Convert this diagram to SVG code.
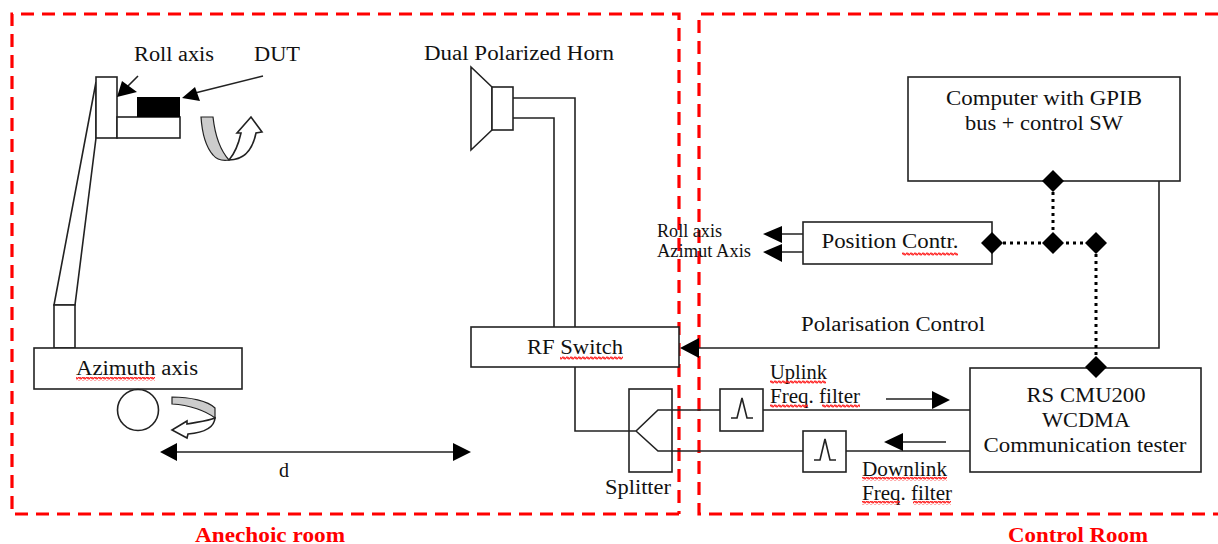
<svg xmlns="http://www.w3.org/2000/svg" width="1218" height="544" viewBox="0 0 1218 544">
<style>
text{font-family:"Liberation Serif","Times New Roman",serif;font-size:20px;fill:#111;text-anchor:middle}
.st{text-anchor:start}
.sm{font-size:18px}
.s{fill:none;stroke:#222;stroke-width:1.6}
.b{fill:#fff;stroke:#222;stroke-width:1.6}
.k{fill:#000;stroke:none}
.room{fill:none;stroke:#f00;stroke-width:3.2;stroke-dasharray:13 8}
.lbl{fill:#f00;font-weight:bold}
.dot{fill:none;stroke:#000;stroke-width:3;stroke-dasharray:3 4}
.sq{fill:none;stroke:#f22;stroke-width:1.1}
</style>
<defs>
<pattern id="squig" width="4" height="4" patternUnits="userSpaceOnUse"><path d="M0 1L1 3L3 1L4 3" class="sq"/></pattern>
<path id="dia" d="M0-11L11 0L0 11L-11 0Z" class="k"/>
</defs>
<rect width="1218" height="544" fill="#fff"/>

<g id="anechoic-room"><path class="room" d="M679 514H12V14H679V514"/><text class="lbl" x="270" y="542" textLength="150" lengthAdjust="spacingAndGlyphs">Anechoic room</text></g>
<g id="control-room"><path class="room" d="M1218 14H699V514H1218"/><text class="lbl" x="1078" y="542" textLength="140" lengthAdjust="spacingAndGlyphs">Control Room</text></g>

<g id="positioner">
<path class="b" d="M96 82L54 305H75L96 138Z"/>
<rect class="b" x="96" y="77" width="21" height="61"/>
<rect class="b" x="117" y="117" width="63" height="21"/>
<rect class="k" x="137" y="97" width="43" height="20"/>
<rect class="b" x="54" y="305" width="21" height="43"/>
<path d="M201 117H213C215 135 220 150 229 160C222 161 217 160 213 155C206 147 202 132 201 117Z" fill="#ccc" stroke="#222" stroke-width="1.2"/>
<path d="M229 160C236 152 239 142 241 133L237 133L251 117L262 132L256 133C253 148 246 160 229 160Z" class="b" stroke-width="1.2"/>
<text x="174" y="61" textLength="80" lengthAdjust="spacingAndGlyphs">Roll axis</text>
<text x="277" y="61" textLength="46" lengthAdjust="spacingAndGlyphs">DUT</text>
</g>
<g id="azimuth-axis">
<rect class="b" x="34" y="348" width="208" height="41"/>
<circle class="b" cx="138" cy="410" r="20.5"/>
<text x="137" y="375" textLength="122" lengthAdjust="spacingAndGlyphs">Azimuth axis</text>
<rect x="76" y="377" width="79" height="4" fill="url(#squig)"/>
<path d="M172 397C190 397 208 401 215 408L215 418C206 411 190 405 172 404Z" fill="#ccc" stroke="#222" stroke-width="1.2"/>
<path d="M215 418C208 421 197 422 187 424L187 421L172 430L187 438L188 434C200 433 214 430 215 418Z" class="b" stroke-width="1.2"/>
</g>
<g id="horn">
<path class="b" d="M471 67L492 87V130L471 150Z"/>
<rect class="b" x="492" y="87" width="21" height="43"/>
<text x="519" y="60" textLength="190" lengthAdjust="spacingAndGlyphs">Dual Polarized Horn</text>
</g>
<g id="rf-switch"><rect class="b" x="471" y="327" width="208" height="40"/><text x="575" y="354" textLength="96" lengthAdjust="spacingAndGlyphs">RF Switch</text><rect x="560" y="356" width="63" height="4" fill="url(#squig)"/></g>
<g id="splitter"><rect class="b" x="629" y="389" width="43" height="83"/><text x="638" y="494" textLength="66" lengthAdjust="spacingAndGlyphs">Splitter</text></g>
<g id="uplink-filter"><rect class="b" x="720" y="389" width="43" height="42"/><path class="s" d="M731 418H737L742 398L747 418H753"/><text x="770" y="379" class="st" textLength="57" lengthAdjust="spacingAndGlyphs">Uplink</text><text x="770" y="403" class="st" textLength="90" lengthAdjust="spacingAndGlyphs">Freq. filter</text><rect x="770" y="380" width="56" height="4" fill="url(#squig)"/><rect x="770" y="404" width="38" height="4" fill="url(#squig)"/><rect x="822" y="404" width="38" height="4" fill="url(#squig)"/></g>
<g id="downlink-filter"><rect class="b" x="803" y="431" width="43" height="41"/><path class="s" d="M814 460H820L825 439L830 460H836"/><text x="862" y="476" class="st" textLength="85" lengthAdjust="spacingAndGlyphs">Downlink</text><text x="862" y="500" class="st" textLength="90" lengthAdjust="spacingAndGlyphs">Freq. filter</text><rect x="862" y="477" width="85" height="4" fill="url(#squig)"/><rect x="862" y="501" width="38" height="4" fill="url(#squig)"/><rect x="913" y="501" width="38" height="4" fill="url(#squig)"/></g>
<g id="computer"><rect class="b" x="908" y="77" width="272" height="104"/><text x="1044" y="105" textLength="196" lengthAdjust="spacingAndGlyphs">Computer with GPIB</text><text x="1044" y="130" textLength="158" lengthAdjust="spacingAndGlyphs">bus + control SW</text></g>
<g id="position-controller"><rect class="b" x="803" y="222" width="189" height="42"/><text x="890" y="248" textLength="137" lengthAdjust="spacingAndGlyphs">Position Contr.</text><rect x="902" y="252" width="56" height="4" fill="url(#squig)"/></g>
<g id="cmu200"><rect class="b" x="970" y="368" width="231" height="104"/><text x="1086" y="402" textLength="119" lengthAdjust="spacingAndGlyphs">RS CMU200</text><text x="1086" y="427" textLength="88" lengthAdjust="spacingAndGlyphs">WCDMA</text><text x="1085" y="452" textLength="203" lengthAdjust="spacingAndGlyphs">Communication tester</text></g>
<g id="axis-labels"><text x="657" y="237" class="st sm" textLength="65" lengthAdjust="spacingAndGlyphs">Roll axis</text><text x="657" y="257" class="st sm" textLength="94" lengthAdjust="spacingAndGlyphs">Azimut Axis</text></g>
<g id="polarisation-label"><text x="893" y="331" textLength="184" lengthAdjust="spacingAndGlyphs">Polarisation Control</text></g>
<g id="distance-label"><text x="284" y="477">d</text></g>

<g id="connectors">
<path class="s" d="M513 98H575V327M513 118H554V327M575 367V431H636L658 410H720M636 431L658 451H803M763 410H970M846 451H970M1159 181V348H695M803 234H780M803 252H780M886 399H935M946 442H900M175 452H456M138 76L128 86M263 76L195 93"/>
<path class="dot" d="M1053 192V232M1003 243H1085M1096 254V356"/>
<use href="#dia" x="1053" y="181"/><use href="#dia" x="1053" y="243"/><use href="#dia" x="1096" y="243"/><use href="#dia" x="992" y="243"/><use href="#dia" x="1096" y="367"/>
<path class="k" d="M680 348L699 338V358ZM763 234L782 226V243ZM763 252L782 244V262ZM950 400L932 391V409ZM884 442L903 433V451ZM160 452L177 443V461ZM471 452L453 443V461ZM117 97L122 81L137 92ZM182 98L195 87L200 101Z"/>
</g>
</svg>
